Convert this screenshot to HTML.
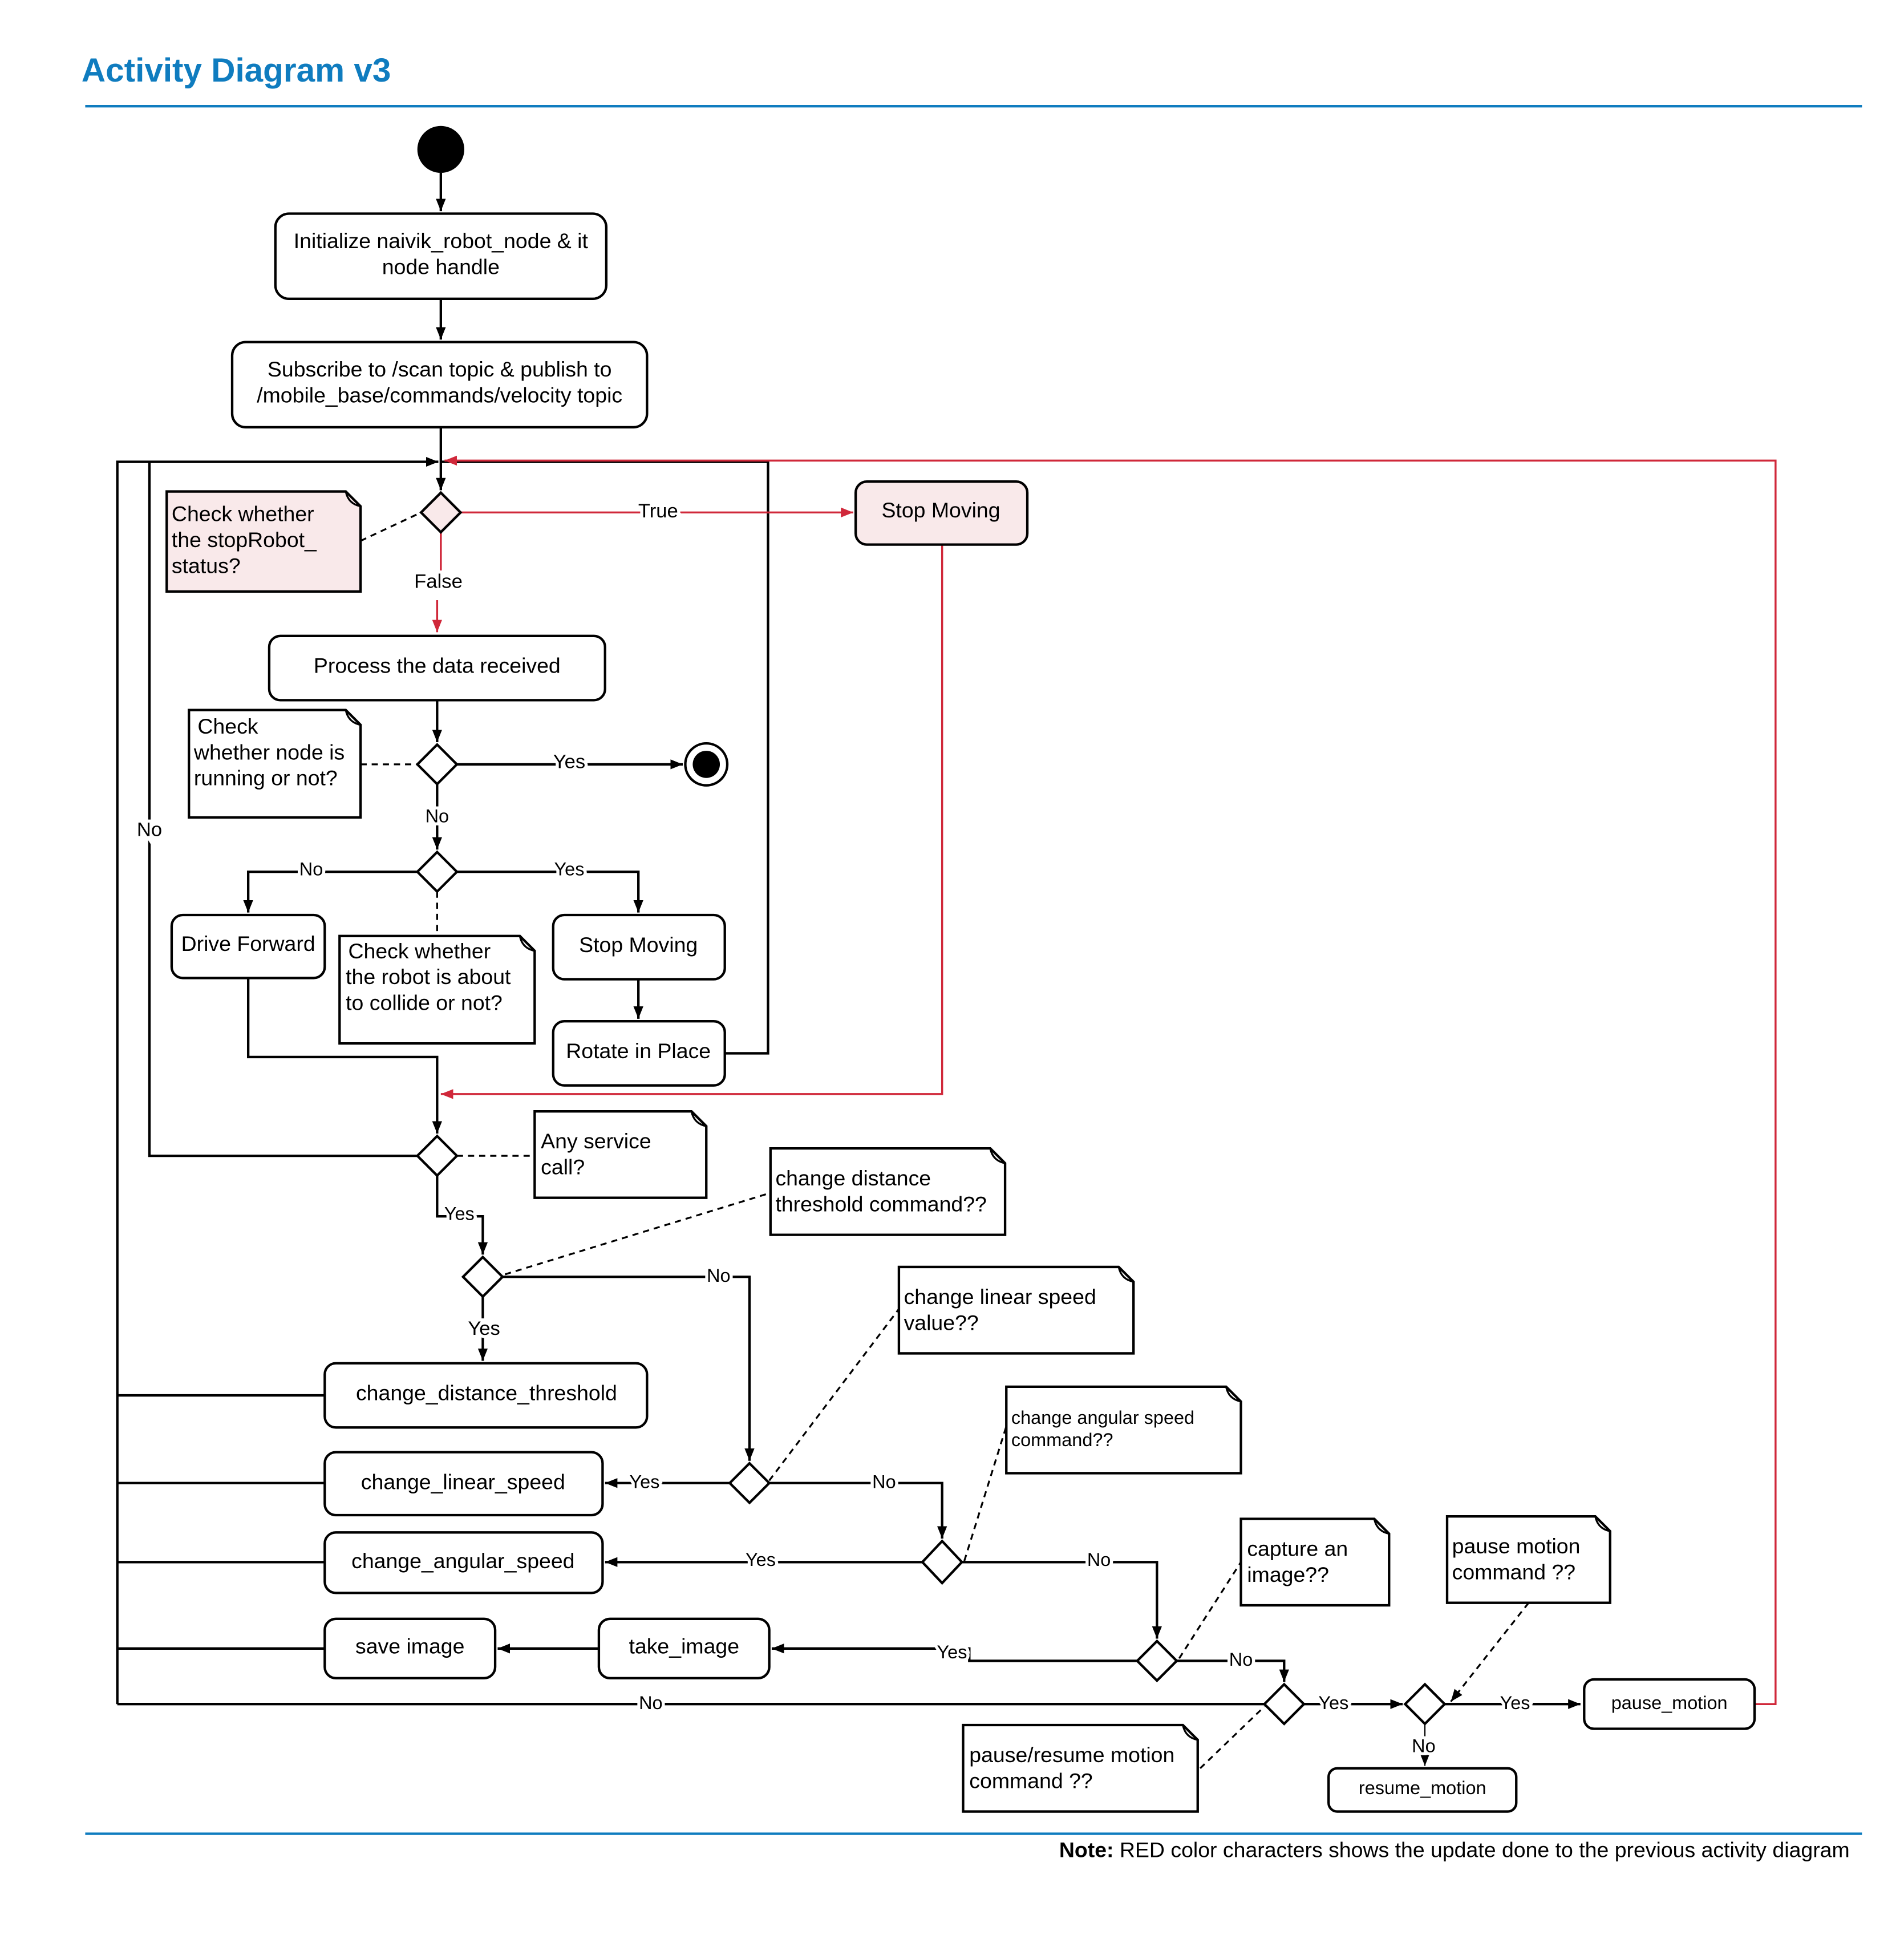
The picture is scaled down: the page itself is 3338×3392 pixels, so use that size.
<!DOCTYPE html>
<html><head><meta charset="utf-8"><style>
html,body{margin:0;padding:0;background:#fff}
svg{display:block}
text{font-family:"Liberation Sans",sans-serif;fill:#000}
</style></head><body>
<svg width="3338" height="3392" viewBox="0 0 1542 1567" xmlns="http://www.w3.org/2000/svg">
<defs>
<marker id="a" viewBox="0 0 10 10" refX="10" refY="5" markerWidth="10" markerHeight="10" markerUnits="userSpaceOnUse" orient="auto"><path d="M0,1 L10,5 L0,9 Z" fill="#000"/></marker>
<marker id="r" viewBox="0 0 10 10" refX="10" refY="5" markerWidth="10" markerHeight="10" markerUnits="userSpaceOnUse" orient="auto"><path d="M0,1 L10,5 L0,9 Z" fill="#d0283a"/></marker>
</defs>
<rect width="1542" height="1567" fill="#fff"/>
<text x="66" y="66" font-size="27" font-weight="bold" style="fill:#0f7cbf">Activity Diagram v3</text>
<line x1="69" y1="86" x2="1508" y2="86" stroke="#0f7cbf" stroke-width="2"/>
<line x1="69" y1="1485" x2="1508" y2="1485" stroke="#0f7cbf" stroke-width="2"/>
<text x="1498" y="1504" font-size="17.3" text-anchor="end"><tspan font-weight="bold">Note:</tspan> RED color characters shows the update done to the previous activity diagram</text>

<g fill="none" stroke="#000" stroke-width="2">
<line x1="357" y1="140" x2="357" y2="171" marker-end="url(#a)"/>
<line x1="357" y1="242" x2="357" y2="275" marker-end="url(#a)"/>
<line x1="357" y1="346" x2="357" y2="397" marker-end="url(#a)"/>
<polyline points="95,1380 95,374 355,374" marker-end="url(#a)"/>
<polyline points="338,936 121,936 121,374"/>
<polyline points="587,853 622,853 622,374 357,374"/>
<line x1="354" y1="567" x2="354" y2="601" marker-end="url(#a)"/>
<line x1="370" y1="619" x2="553" y2="619" marker-end="url(#a)"/>
<line x1="354" y1="635" x2="354" y2="688" marker-end="url(#a)"/>
<polyline points="338,706 201,706 201,739" marker-end="url(#a)"/>
<polyline points="370,706 517,706 517,739" marker-end="url(#a)"/>
<line x1="517" y1="793" x2="517" y2="825" marker-end="url(#a)"/>
<polyline points="201,792 201,856 354,856 354,918" marker-end="url(#a)"/>
<polyline points="354,952 354,985 391,985 391,1016" marker-end="url(#a)"/>
<polyline points="407,1034 607,1034 607,1183" marker-end="url(#a)"/>
<line x1="391" y1="1050" x2="391" y2="1102" marker-end="url(#a)"/>
<line x1="95" y1="1130" x2="263" y2="1130"/>
<line x1="591" y1="1201" x2="490" y2="1201" marker-end="url(#a)"/>
<polyline points="623,1201 763,1201 763,1246" marker-end="url(#a)"/>
<line x1="95" y1="1201" x2="263" y2="1201"/>
<line x1="747" y1="1265" x2="490" y2="1265" marker-end="url(#a)"/>
<polyline points="779,1265 937,1265 937,1327" marker-end="url(#a)"/>
<line x1="95" y1="1265" x2="263" y2="1265"/>
<polyline points="921,1345 785,1345 785,1335 625,1335" marker-end="url(#a)"/>
<line x1="485" y1="1335" x2="403" y2="1335" marker-end="url(#a)"/>
<line x1="95" y1="1335" x2="263" y2="1335"/>
<polyline points="953,1345 1040,1345 1040,1362" marker-end="url(#a)"/>
<line x1="1024" y1="1380" x2="95" y2="1380"/>
<line x1="1056" y1="1380" x2="1136" y2="1380" marker-end="url(#a)"/>
<line x1="1170" y1="1380" x2="1280" y2="1380" marker-end="url(#a)"/>
<line x1="1154" y1="1396" x2="1154" y2="1430" stroke-width="1" marker-end="url(#a)"/>
</g>
<g fill="none" stroke="#d0283a" stroke-width="1.6">
<polyline points="1421,1380 1438,1380 1438,373 360,373" marker-end="url(#r)"/>
<line x1="373" y1="415" x2="691" y2="415" marker-end="url(#r)"/>
<polyline points="763,441 763,886 357,886" marker-end="url(#r)"/>
<line x1="357" y1="431" x2="357" y2="462"/>
<line x1="354" y1="486" x2="354" y2="512" marker-end="url(#r)"/>
</g>
<g fill="none" stroke="#000" stroke-width="1.5" stroke-dasharray="5,4">
<line x1="292" y1="438" x2="341" y2="415"/>
<line x1="292" y1="619" x2="338" y2="619"/>
<line x1="354" y1="722" x2="354" y2="757"/>
<line x1="370" y1="936" x2="433" y2="936"/>
<line x1="409" y1="1032" x2="624" y2="966"/>
<line x1="623" y1="1199" x2="728" y2="1060"/>
<line x1="781" y1="1264" x2="815" y2="1155"/>
<line x1="955" y1="1343" x2="1005" y2="1265"/>
<line x1="972" y1="1432" x2="1024" y2="1382"/>
<line x1="1238" y1="1298" x2="1175" y2="1378" marker-end="url(#a)"/>
</g>

<circle cx="357" cy="121" r="19" fill="#000"/>
<circle cx="572" cy="619" r="17" fill="#fff" stroke="#000" stroke-width="2"/>
<circle cx="572" cy="619" r="11" fill="#000"/>

<g stroke="#000" stroke-width="2" fill="#fff">
<rect x="223" y="173" width="268" height="69" rx="11"/>
<rect x="188" y="277" width="336" height="69" rx="11"/>
<rect x="693" y="390" width="139" height="51" rx="9" fill="#f9e9ea"/>
<rect x="218" y="515" width="272" height="52" rx="9"/>
<rect x="139" y="741" width="124" height="51" rx="9"/>
<rect x="448" y="741" width="139" height="52" rx="9"/>
<rect x="448" y="827" width="139" height="52" rx="9"/>
<rect x="263" y="1104" width="261" height="52" rx="9"/>
<rect x="263" y="1176" width="225" height="51" rx="9"/>
<rect x="263" y="1241" width="225" height="49" rx="9"/>
<rect x="263" y="1311" width="138" height="48" rx="9"/>
<rect x="485" y="1311" width="138" height="48" rx="9"/>
<rect x="1283" y="1360" width="138" height="40" rx="8"/>
<rect x="1076" y="1432" width="152" height="35" rx="7"/>
<path d="M357,399 L373,415 L357,431 L341,415 Z" fill="#f9e9ea"/>
<path d="M354,603 L370,619 L354,635 L338,619 Z"/>
<path d="M354,690 L370,706 L354,722 L338,706 Z"/>
<path d="M354,920 L370,936 L354,952 L338,936 Z"/>
<path d="M391,1018 L407,1034 L391,1050 L375,1034 Z"/>
<path d="M607,1185 L623,1201 L607,1217 L591,1201 Z"/>
<path d="M763,1248 L779,1265 L763,1282 L747,1265 Z"/>
<path d="M937,1329 L953,1345 L937,1361 L921,1345 Z"/>
<path d="M1040,1364 L1056,1380 L1040,1396 L1024,1380 Z"/>
<path d="M1154,1364 L1170,1380 L1154,1396 L1138,1380 Z"/>
</g>
<g stroke="#000" stroke-width="2" fill="#fff">
<path d="M135,398 H280 L292,410 V479 H135 Z" fill="#f9e9ea"/>
<path d="M153,575 H280 L292,587 V662 H153 Z"/>
<path d="M275,758 H421 L433,770 V845 H275 Z"/>
<path d="M433,900 H560 L572,912 V970 H433 Z"/>
<path d="M624,930 H802 L814,942 V1000 H624 Z"/>
<path d="M728,1026 H906 L918,1038 V1096 H728 Z"/>
<path d="M815,1123 H993 L1005,1135 V1193 H815 Z"/>
<path d="M1005,1230 H1113 L1125,1242 V1300 H1005 Z"/>
<path d="M1172,1228 H1292 L1304,1240 V1298 H1172 Z"/>
<path d="M780,1397 H958 L970,1409 V1467 H780 Z"/>
</g>
<g fill="none" stroke="#000" stroke-width="1.5">
<path d="M280,398 Q282,408 292,410"/><path d="M280,575 Q282,585 292,587"/>
<path d="M421,758 Q423,768 433,770"/><path d="M560,900 Q562,910 572,912"/>
<path d="M802,930 Q804,940 814,942"/><path d="M906,1026 Q908,1036 918,1038"/>
<path d="M993,1123 Q995,1133 1005,1135"/><path d="M1113,1230 Q1115,1240 1125,1242"/>
<path d="M1292,1228 Q1294,1238 1304,1240"/><path d="M958,1397 Q960,1407 970,1409"/>
</g>

<g font-size="17.3" text-anchor="middle">
<text x="357" y="201">Initialize naivik_robot_node &amp; it</text>
<text x="357" y="222">node handle</text>
<text x="356" y="305">Subscribe to /scan topic &amp; publish to</text>
<text x="356" y="326">/mobile_base/commands/velocity topic</text>
<text x="762" y="419">Stop Moving</text>
<text x="354" y="545">Process the data received</text>
<text x="201" y="770">Drive Forward</text>
<text x="517" y="771">Stop Moving</text>
<text x="517" y="857">Rotate in Place</text>
<text x="394" y="1134">change_distance_threshold</text>
<text x="375" y="1206">change_linear_speed</text>
<text x="375" y="1270">change_angular_speed</text>
<text x="332" y="1339">save image</text>
<text x="554" y="1339">take_image</text>
<text x="1352" y="1384" font-size="15">pause_motion</text>
<text x="1152" y="1453" font-size="15">resume_motion</text>
</g>
<g font-size="17.3">
<text x="139" y="422">Check whether</text><text x="139" y="443">the stopRobot_</text><text x="139" y="464">status?</text>
<text x="160" y="594">Check</text><text x="157" y="615">whether node is</text><text x="157" y="636">running or not?</text>
<text x="282" y="776">Check whether</text><text x="280" y="797">the robot is about</text><text x="280" y="818">to collide or not?</text>
<text x="438" y="930">Any service</text><text x="438" y="951">call?</text>
<text x="628" y="960">change distance</text><text x="628" y="981">threshold command??</text>
<text x="732" y="1056">change linear speed</text><text x="732" y="1077">value??</text>
<text x="819" y="1153" font-size="15">change angular speed</text><text x="819" y="1171" font-size="15">command??</text>
<text x="1010" y="1260">capture an</text><text x="1010" y="1281">image??</text>
<text x="1176" y="1258">pause motion</text><text x="1176" y="1279">command ??</text>
<text x="785" y="1427">pause/resume motion</text><text x="785" y="1448">command ??</text>
</g>
<g font-size="16" text-anchor="middle" stroke="#fff" stroke-width="5" paint-order="stroke" style="paint-order:stroke">
<text x="533" y="419">True</text>
<text x="355" y="476">False</text>
<text x="121" y="677">No</text>
<text x="461" y="622">Yes</text>
<text x="354" y="666" font-size="15">No</text>
<text x="252" y="709" font-size="15">No</text>
<text x="461" y="709" font-size="15">Yes</text>
<text x="372" y="988" font-size="15">Yes</text>
<text x="582" y="1038" font-size="15">No</text>
<text x="392" y="1081">Yes</text>
<text x="522" y="1205" font-size="15">Yes</text>
<text x="716" y="1205" font-size="15">No</text>
<text x="616" y="1268" font-size="15">Yes</text>
<text x="890" y="1268" font-size="15">No</text>
<text x="771" y="1343" font-size="15">Yes</text>
<text x="1005" y="1349" font-size="15">No</text>
<text x="527" y="1384" font-size="15">No</text>
<text x="1080" y="1384" font-size="15">Yes</text>
<text x="1227" y="1384" font-size="15">Yes</text>
<text x="1153" y="1419" font-size="15">No</text>
</g>
</svg>
</body></html>
